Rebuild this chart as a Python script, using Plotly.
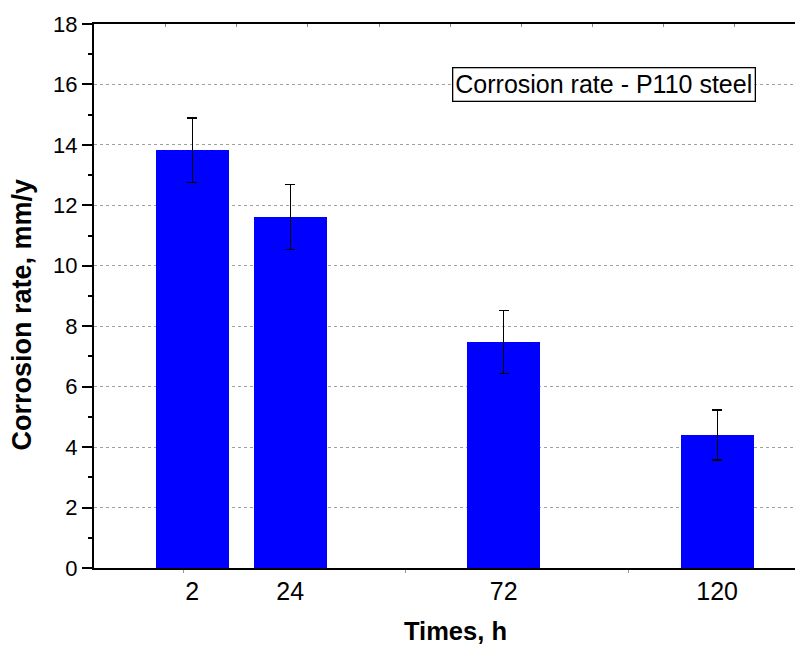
import plotly.graph_objects as go

# Exposure times (h) and measured corrosion rates (mm/y) with their spread
times_h = [2, 24, 72, 120]
rate_mm_y = [13.82, 11.62, 7.48, 4.40]
rate_err = [1.07, 1.07, 1.05, 0.83]
y_ticks = [0, 2, 4, 6, 8, 10, 12, 14, 16, 18]
x_labels = ["2", "24", "72", "120"]

font_family = "Liberation Sans, Arial, sans-serif"

fig = go.Figure()

fig.add_trace(go.Bar(
    x=times_h,
    y=rate_mm_y,
    width=16.4,
    marker=dict(color="#0000FF", line=dict(width=0)),
    error_y=dict(type="data", array=rate_err, visible=True,
                 color="black", thickness=1.3, width=5),
    showlegend=False,
))

# Faint ticks along the top frame
fig.add_trace(go.Scatter(x=[None], y=[None], xaxis="x2", showlegend=False,
                         hoverinfo="skip"))

fig.update_layout(
    width=795, height=647,
    margin=dict(l=94, r=0, t=24, b=79),
    paper_bgcolor="white",
    plot_bgcolor="white",
    font=dict(family=font_family, color="black", size=22),
    xaxis=dict(
        range=[-20.1, 137.5],
        tickmode="array",
        tickvals=times_h,
        ticktext=x_labels,
        ticks="",
        minor=dict(ticks="outside", tick0=0, dtick=50, ticklen=3,
                   tickwidth=1, tickcolor="#999999", showgrid=False),
        showgrid=False,
        zeroline=False,
        showline=True,
        linecolor="black",
        linewidth=2,
        mirror=True,
        tickfont=dict(size=25),
    ),
    xaxis2=dict(
        overlaying="x",
        side="top",
        range=[-20.1, 137.5],
        tickmode="linear",
        tick0=-4,
        dtick=16,
        ticks="inside",
        ticklen=3,
        tickcolor="#888888",
        showticklabels=False,
        showgrid=False,
        zeroline=False,
        showline=False,
    ),
    yaxis=dict(
        range=[0, 18],
        tickmode="array",
        tickvals=y_ticks,
        ticks="outside",
        ticklen=10,
        tickwidth=2,
        tickcolor="black",
        minor=dict(ticks="outside", ticklen=4, tickwidth=2, tickcolor="black",
                   dtick=1, showgrid=False),
        showgrid=True,
        gridcolor="#a0a0a0",
        griddash="3px,3px",
        gridwidth=1,
        zeroline=False,
        showline=True,
        linecolor="black",
        linewidth=2,
        tickfont=dict(size=22),
    ),
    bargap=0,
)

# Axis titles
fig.add_annotation(
    text="<b>Times, h</b>",
    xref="paper", yref="paper", x=0.516, y=-0.116,
    xanchor="center", yanchor="middle", showarrow=False,
    font=dict(size=25.5, family=font_family, color="black"),
)
fig.add_annotation(
    text="<b>Corrosion rate, mm/y</b>",
    xref="paper", yref="paper", x=-0.1013, y=0.466,
    xanchor="center", yanchor="middle", showarrow=False, textangle=-90,
    font=dict(size=27, family=font_family, color="black"),
)

fig.add_annotation(
    text="Corrosion rate - P110 steel",
    xref="paper", yref="paper",
    x=0.727, y=0.889,
    xanchor="center", yanchor="middle",
    showarrow=False,
    font=dict(size=25, family=font_family, color="black"),
    bgcolor="white",
    bordercolor="black",
    borderwidth=1.3,
    borderpad=2,
)

fig.write_html("out.html")
